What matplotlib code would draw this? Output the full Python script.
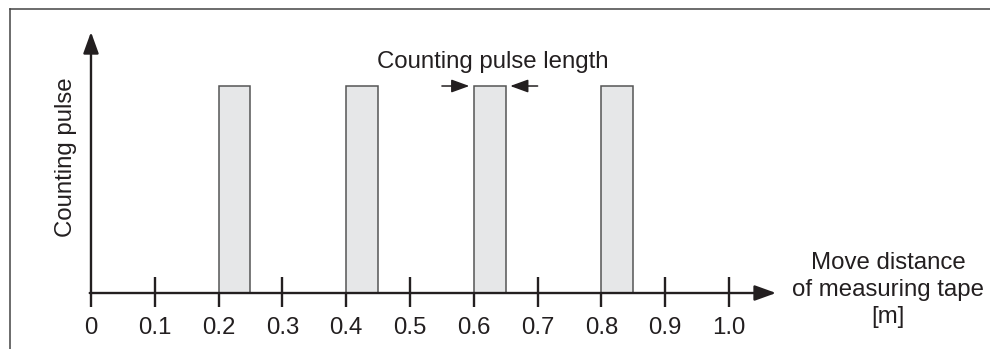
import matplotlib
matplotlib.use("Agg")
import matplotlib.pyplot as plt
from matplotlib.lines import Line2D

plt.rcParams['font.family'] = ['Liberation Sans', 'DejaVu Sans']

# data
pulse_starts = [0.2, 0.4, 0.6, 0.8]
pulse_width = 0.05
pulse_height = 1.0
tick_pos = [0.0, 0.1, 0.2, 0.3, 0.4, 0.5, 0.6, 0.7, 0.8, 0.9, 1.0]
tick_labels = ['0', '0.1', '0.2', '0.3', '0.4', '0.5', '0.6', '0.7', '0.8', '0.9', '1.0']
full_ticks = [0.1, 0.3, 0.5, 0.7, 0.9, 1.0]
half_ticks = [0.0, 0.2, 0.4, 0.6, 0.8]

ink = '#231f20'
fs = 17.3

fig = plt.figure(figsize=(9.9, 3.49), dpi=100)
ax = fig.add_axes([0, 0, 1, 1])
ax.set_xlim(-0.1426, 1.409)
ax.set_ylim(-0.2705, 1.4155)
ax.axis('off')

# frame (left + top)
fig.add_artist(Line2D([10/990, 10/990], [0, 1 - 9/349], color='#444444', lw=1.1))
fig.add_artist(Line2D([10/990, 1], [1 - 9/349, 1 - 9/349], color='#444444', lw=1.1))

# pulses
ax.bar(pulse_starts, pulse_height, width=pulse_width, align='edge',
       color='#e6e7e8', edgecolor='#555555', lw=1.1, zorder=2)

# axes with arrows
ax.annotate('', xy=(0, 1.261), xytext=(0, 0),
            arrowprops=dict(arrowstyle='-|>,head_length=1.3,head_width=0.47',
                            mutation_scale=10, lw=1.7, color=ink,
                            shrinkA=0, shrinkB=0), zorder=3)
ax.annotate('', xy=(1.0737, 0), xytext=(-0.002, 0),
            arrowprops=dict(arrowstyle='-|>,head_length=1.3,head_width=0.47',
                            mutation_scale=10, lw=1.7, color=ink,
                            shrinkA=0, shrinkB=0), zorder=3)

# ticks
ax.vlines(full_ticks, -0.0676, 0.0773, color=ink, lw=1.7, zorder=3)
ax.vlines(half_ticks, -0.0676, 0, color=ink, lw=1.7, zorder=3)
for x, lab in zip(tick_pos, tick_labels):
    ax.text(x, -0.168, lab, ha='center', va='center', fontsize=fs, color=ink)

# labels
ax.text(-0.039, 0.657, 'Counting pulse', rotation=90, ha='center', va='center',
        fontsize=fs, color=ink)
ax.text(1.249, 0.0145, 'Move distance\nof measuring tape\n[m]', ha='center',
        va='center', fontsize=fs, color=ink, linespacing=1.32)
ax.text(0.630, 1.116, 'Counting pulse length', ha='center', va='center',
        fontsize=fs, color=ink)

# pulse length arrows
ax.annotate('', xy=(0.593, 1.0), xytext=(0.550, 1.0),
            arrowprops=dict(arrowstyle='-|>,head_length=1.1,head_width=0.4',
                            mutation_scale=10, lw=1.1, color=ink,
                            shrinkA=0, shrinkB=0))
ax.annotate('', xy=(0.657, 1.0), xytext=(0.700, 1.0),
            arrowprops=dict(arrowstyle='-|>,head_length=1.1,head_width=0.4',
                            mutation_scale=10, lw=1.1, color=ink,
                            shrinkA=0, shrinkB=0))

fig.savefig('out.png', dpi=100)
